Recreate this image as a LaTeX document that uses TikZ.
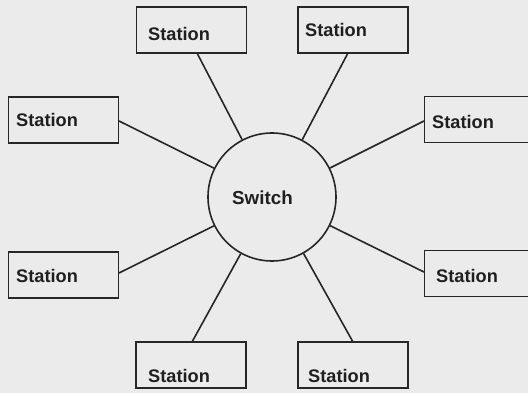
\documentclass[tikz,border=0pt]{standalone}
\usepackage{fontspec}
\setmainfont{Liberation Sans}
\begin{document}
\begin{tikzpicture}[x=1pt,y=-1pt,
  ink/.style={draw=black!85, line width=1.6pt},
  stationbox/.style={ink, rectangle, inner sep=0pt, minimum width=110pt, minimum height=46pt},
  hub/.style={ink, circle, inner sep=0pt, minimum size=128pt},
  lbl/.style={inner sep=0pt, anchor=base west, text=black!88, font=\bfseries\fontsize{18.2}{21}\selectfont},
  link/.style={ink}]
  % paper background
  \fill[black!8] (0,0) rectangle (528,393);
  \useasboundingbox (0,0) rectangle (528,393);

  % central switch
  \node[hub] (sw) at (272,197) {};
  \node[lbl, font=\bfseries\fontsize{18.8}{21}\selectfont] (swt) at (232,205) {Switch};

  % stations
  \node[stationbox] (tl) at (191.5,30) {};
  \node[lbl] (tlt) at (148,41) {Station};
  \node[stationbox] (tr) at (353,30) {};
  \node[lbl] (trt) at (305,37) {Station};
  \node[stationbox] (l1) at (63.5,120) {};
  \node[lbl] (l1t) at (16,127) {Station};
  \node[stationbox] (r1) at (479.5,119.5) {};
  \node[lbl] (r1t) at (432,129) {Station};
  \node[stationbox] (l2) at (63.5,275) {};
  \node[lbl] (l2t) at (16,282) {Station};
  \node[stationbox] (r2) at (479.5,273.5) {};
  \node[lbl] (r2t) at (436,283) {Station};
  \node[stationbox] (bl) at (191,365) {};
  \node[lbl] (blt) at (148,382) {Station};
  \node[stationbox] (br) at (353,365) {};
  \node[lbl] (brt) at (308,382) {Station};

  % attachment points on the station boxes
  \coordinate (ptl) at (197,53);
  \coordinate (ptr) at (348,53);
  \coordinate (pl1) at (119,121);
  \coordinate (pr1) at (424,121);
  \coordinate (pl2) at (119,273);
  \coordinate (pr2) at (424,272);
  \coordinate (pbl) at (192,342);
  \coordinate (pbr) at (353,342);

  % links from stations to the switch
  \foreach \p in {ptl,ptr,pl1,pr1,pl2,pr2,pbl,pbr}
    \draw[link] (\p) -- (sw);
\end{tikzpicture}
\end{document}
